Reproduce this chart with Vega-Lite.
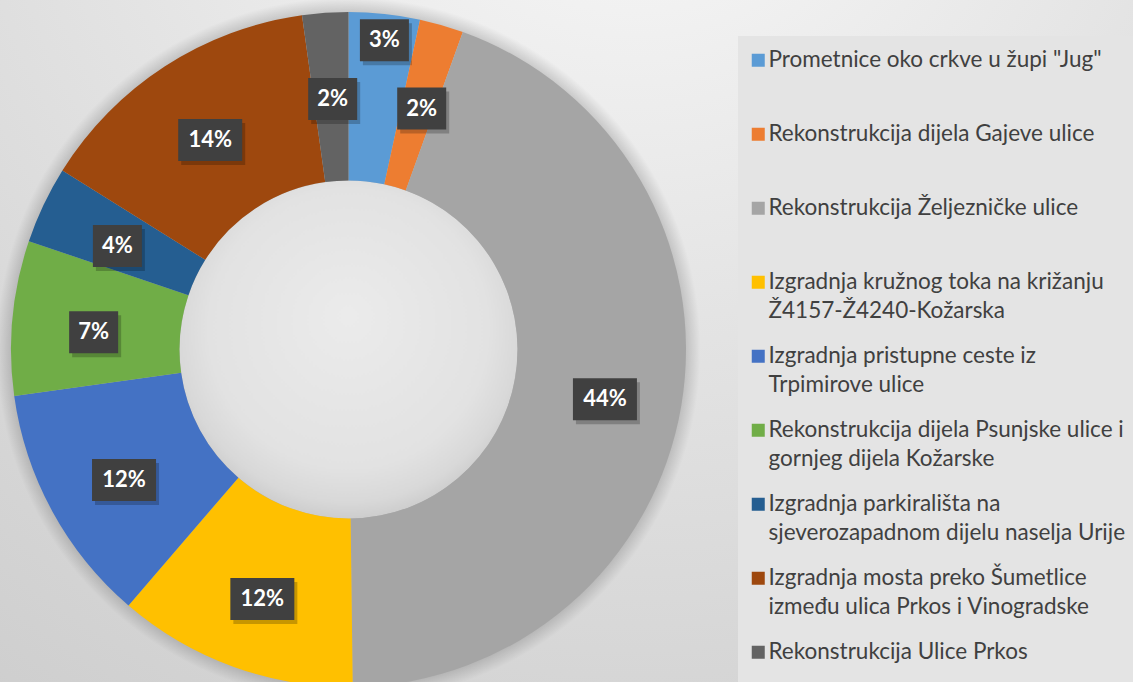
{
  "$schema": "https://vega.github.io/schema/vega-lite/v6.json",
  "width": 1133,
  "height": 682,
  "padding": 0,
  "autosize": {"type": "none"},
  "background": "#d8d8d8",
  "config": {"view": {"stroke": null}},
  "layer": [
    {
      "data": {"values": [{}]},
      "mark": {
        "type": "rect",
        "fill": {
          "gradient": "radial",
          "x1": 0.56, "y1": 0, "r1": 0,
          "x2": 0.56, "y2": 0, "r2": 1.2,
          "stops": [
            {"offset": 0, "color": "#fbfbfb"},
            {"offset": 0.4, "color": "#e4e4e4"},
            {"offset": 0.7, "color": "#d4d4d4"},
            {"offset": 1, "color": "#c6c6c6"}
          ]
        }
      },
      "encoding": {
        "x": {"datum": -348.5, "type": "quantitative", "scale": {"domain": [-348.5, 784.5], "nice": false, "zero": false}, "axis": null},
        "x2": {"datum": 784.5},
        "y": {"datum": -332.5, "type": "quantitative", "scale": {"domain": [-332.5, 349.5], "nice": false, "zero": false}, "axis": null},
        "y2": {"datum": 349.5}
      }
    },
    {
      "data": {"values": [{}]},
      "mark": {
        "type": "arc",
        "theta": 0,
        "theta2": 6.2832,
        "outerRadius": 352,
        "innerRadius": 0,
        "fill": {
          "gradient": "radial",
          "x1": 0.5, "y1": 0.5, "r1": 0,
          "x2": 0.5, "y2": 0.5, "r2": 0.5,
          "stops": [
            {"offset": 0, "color": "rgba(0,0,0,0.2)"},
            {"offset": 0.955, "color": "rgba(0,0,0,0.16)"},
            {"offset": 1, "color": "rgba(0,0,0,0)"}
          ]
        }
      },
      "encoding": {
        "x": {"datum": 0, "type": "quantitative", "scale": {"domain": [-348.5, 784.5], "nice": false, "zero": false}, "axis": null},
        "y": {"datum": 0, "type": "quantitative", "scale": {"domain": [-332.5, 349.5], "nice": false, "zero": false}, "axis": null}
      }
    },
    {
      "data": {"values": [{}]},
      "mark": {
        "type": "arc",
        "theta": 0,
        "theta2": 6.2832,
        "outerRadius": 169,
        "innerRadius": 0,
        "fill": {
          "gradient": "radial",
          "x1": 0.5, "y1": 0.4, "r1": 0,
          "x2": 0.5, "y2": 0.45, "r2": 0.55,
          "stops": [
            {"offset": 0, "color": "#ebebeb"},
            {"offset": 0.75, "color": "#e2e2e2"},
            {"offset": 0.92, "color": "#d8d8d8"},
            {"offset": 1, "color": "#cdcdcd"}
          ]
        }
      },
      "encoding": {
        "x": {"datum": 0, "type": "quantitative", "scale": {"domain": [-348.5, 784.5], "nice": false, "zero": false}, "axis": null},
        "y": {"datum": 0, "type": "quantitative", "scale": {"domain": [-332.5, 349.5], "nice": false, "zero": false}, "axis": null}
      }
    },
    {
      "data": {
        "values": [
          {"order": 1, "name": "Prometnice oko crkve u župi \"Jug\"", "value": 3.4, "label": "3%"},
          {"order": 2, "name": "Rekonstrukcija dijela Gajeve ulice", "value": 2.1, "label": "2%"},
          {"order": 3, "name": "Rekonstrukcija Željezničke ulice", "value": 44.3, "label": "44%"},
          {"order": 4, "name": "Izgradnja kružnog toka na križanju Ž4157-Ž4240-Kožarska", "value": 11.5, "label": "12%"},
          {"order": 5, "name": "Izgradnja pristupne ceste iz Trpimirove ulice", "value": 11.5, "label": "12%"},
          {"order": 6, "name": "Rekonstrukcija dijela Psunjske ulice i gornjeg dijela Kožarske", "value": 7.4, "label": "7%"},
          {"order": 7, "name": "Izgradnja parkirališta na sjeverozapadnom dijelu naselja Urije", "value": 3.7, "label": "4%"},
          {"order": 8, "name": "Izgradnja mosta preko Šumetlice između ulica Prkos i Vinogradske", "value": 13.9, "label": "14%"},
          {"order": 9, "name": "Rekonstrukcija Ulice Prkos", "value": 2.2, "label": "2%"}
        ]
      },
      "transform": [
        {"window": [{"op": "sum", "field": "value", "as": "end"}], "sort": [{"field": "order"}], "frame": [null, 0]},
        {"calculate": "datum.end - datum.value", "as": "start"},
        {"calculate": "(datum.end - datum.value / 2) / 100 * 2 * PI", "as": "mid"},
        {"calculate": "datum.order == 1 ? 318 : 258", "as": "lr"},
        {"calculate": "datum.lr * sin(datum.mid)", "as": "lx"},
        {"calculate": "datum.lr * cos(datum.mid)", "as": "ly"}
      ],
      "layer": [
        {
          "mark": {"type": "arc", "outerRadius": 337.5, "innerRadius": 169, "strokeWidth": 0},
          "encoding": {
            "theta": {"field": "start", "type": "quantitative", "stack": null, "scale": {"domain": [0, 100], "range": [0, 6.283185307]}},
            "theta2": {"field": "end"},
            "x": {"datum": 0, "type": "quantitative", "scale": {"domain": [-348.5, 784.5], "nice": false, "zero": false}, "axis": null},
            "y": {"datum": 0, "type": "quantitative", "scale": {"domain": [-332.5, 349.5], "nice": false, "zero": false}, "axis": null},
            "color": {
              "field": "name",
              "type": "nominal",
              "scale": {
                "domain": [
                  "Prometnice oko crkve u župi \"Jug\"",
                  "Rekonstrukcija dijela Gajeve ulice",
                  "Rekonstrukcija Željezničke ulice",
                  "Izgradnja kružnog toka na križanju Ž4157-Ž4240-Kožarska",
                  "Izgradnja pristupne ceste iz Trpimirove ulice",
                  "Rekonstrukcija dijela Psunjske ulice i gornjeg dijela Kožarske",
                  "Izgradnja parkirališta na sjeverozapadnom dijelu naselja Urije",
                  "Izgradnja mosta preko Šumetlice između ulica Prkos i Vinogradske",
                  "Rekonstrukcija Ulice Prkos"
                ],
                "range": ["#5B9BD5", "#ED7D31", "#A5A5A5", "#FFC000", "#4472C4", "#70AD47", "#255E91", "#9E480E", "#636363"]
              },
              "legend": {
                "orient": "none",
                "legendX": 738,
                "legendY": 36,
                "title": null,
                "symbolType": "square",
                "symbolSize": 169,
                "symbolStrokeWidth": 0,
                "symbolOpacity": 1,
                "symbolOffset": -4,
                "labelFont": "Lato",
                "labelFontSize": 22.5,
                "labelColor": "#404040",
                "labelOffset": -1,
                "labelLimit": 450,
                "rowPadding": 22,
                "padding": 13,
                "fillColor": "#e4e4e4",
                "labelExpr": "test(regexp(' (?=Ž4157|Trpimirove|gornjeg|sjeverozapadnom|između)'), datum.label) ? split(replace(datum.label, regexp(' (?=Ž4157|Trpimirove|gornjeg|sjeverozapadnom|između)'), '|'), '|') : [datum.label, ' ']",
                "encode": {"labels": {"update": {"lineHeight": {"value": 28.5}}}}
              }
            }
          }
        },
        {
          "transform": [{"filter": "length(datum.label) == 3"}],
          "mark": {"type": "point", "shape": "M-1,-0.656H1V0.656H-1Z", "size": 4096, "filled": true, "color": "#000000", "opacity": 0.22, "strokeWidth": 0, "xOffset": 5, "yOffset": 11},
          "encoding": {
            "x": {"field": "lx", "type": "quantitative", "axis": null},
            "y": {"field": "ly", "type": "quantitative", "axis": null}
          }
        },
        {
          "transform": [{"filter": "length(datum.label) == 2"}],
          "mark": {"type": "point", "shape": "M-1,-0.857H1V0.857H-1Z", "size": 2401, "filled": true, "color": "#000000", "opacity": 0.22, "strokeWidth": 0, "xOffset": 5, "yOffset": 11},
          "encoding": {
            "x": {"field": "lx", "type": "quantitative", "axis": null},
            "y": {"field": "ly", "type": "quantitative", "axis": null}
          }
        },
        {
          "transform": [{"filter": "length(datum.label) == 3"}],
          "mark": {"type": "point", "shape": "M-1,-0.656H1V0.656H-1Z", "size": 4096, "filled": true, "color": "#404040", "opacity": 1, "strokeWidth": 0, "xOffset": 2, "yOffset": 7},
          "encoding": {
            "x": {"field": "lx", "type": "quantitative", "axis": null},
            "y": {"field": "ly", "type": "quantitative", "axis": null}
          }
        },
        {
          "transform": [{"filter": "length(datum.label) == 2"}],
          "mark": {"type": "point", "shape": "M-1,-0.857H1V0.857H-1Z", "size": 2401, "filled": true, "color": "#404040", "opacity": 1, "strokeWidth": 0, "xOffset": 2, "yOffset": 7},
          "encoding": {
            "x": {"field": "lx", "type": "quantitative", "axis": null},
            "y": {"field": "ly", "type": "quantitative", "axis": null}
          }
        },
        {
          "mark": {"type": "text", "font": "Lato", "fontWeight": "bold", "fontSize": 22, "color": "#ffffff", "align": "center", "baseline": "middle", "xOffset": 2, "yOffset": 7},
          "encoding": {
            "x": {"field": "lx", "type": "quantitative", "axis": null},
            "y": {"field": "ly", "type": "quantitative", "axis": null},
            "text": {"field": "label"}
          }
        }
      ]
    }
  ]
}
